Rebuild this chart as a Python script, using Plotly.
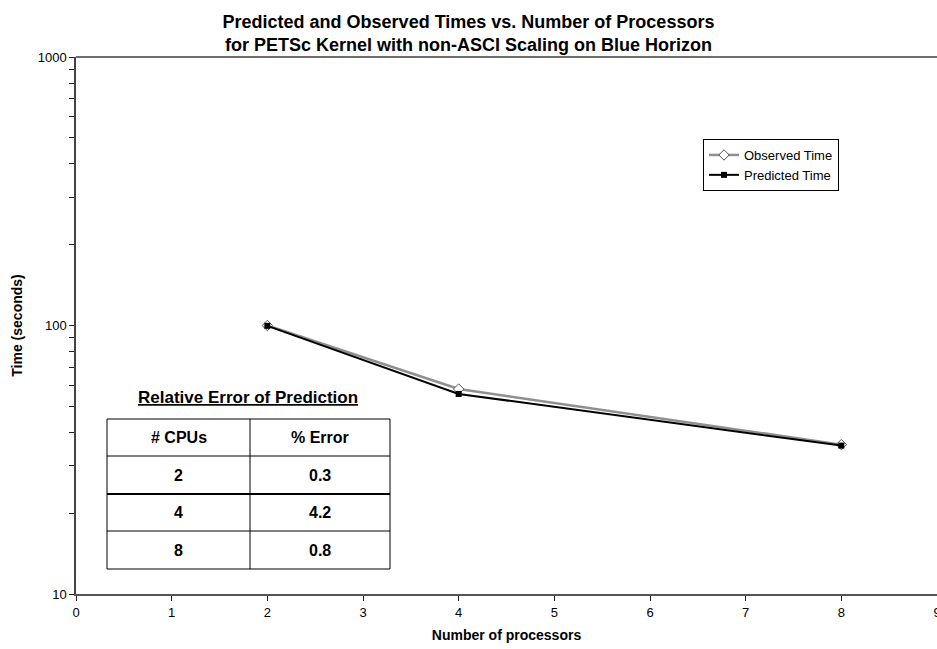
import plotly.graph_objects as go

# Processor counts and measured / modelled run times (seconds)
processors = [2, 4, 8]
observed_time = [100.0, 58.0, 36.0]
predicted_time = [99.7, 55.6, 35.7]

# Relative error table
table_title = "Relative Error of Prediction"
table_header = ["# CPUs", "% Error"]
table_cpus = [2, 4, 8]
table_error = [0.3, 4.2, 0.8]

x_ticks = list(range(0, 10))
y_decades = [10, 100, 1000]
# one tick per integer multiple inside each decade, labels on decades only
y_tickvals = [d * m for d in (10, 100) for m in range(1, 10)] + [1000]
y_ticktext = [str(v) if v in y_decades else "" for v in y_tickvals]

W, H = 937, 649
L, R, T, B = 76, 0, 57, 55
PW, PH = W - L - R, H - T - B


def px(x):
    return (x - L) / PW


def py(y):
    return (H - B - y) / PH


fig = go.Figure()
fig.add_trace(go.Scatter(
    x=processors, y=observed_time, name="Observed Time", mode="lines+markers",
    line=dict(color="#8f8f8f", width=2.5),
    marker=dict(symbol="diamond", size=8, color="white",
                line=dict(color="#555555", width=1)),
))
fig.add_trace(go.Scatter(
    x=processors, y=predicted_time, name="Predicted Time", mode="lines+markers",
    line=dict(color="black", width=2),
    marker=dict(symbol="square", size=6, color="black"),
))

font = "Liberation Sans, Arial, sans-serif"

shapes = []
# top frame line
shapes.append(dict(type="line", xref="paper", yref="paper", x0=0, x1=1, y0=1, y1=1,
                   line=dict(color="#6e6e6e", width=2)))

# Table geometry (pixels)
tx0, tx1, tcol = 107, 390, 250
row_y = [419, 456, 494, 531, 569]
shapes.append(dict(type="rect", xref="paper", yref="paper",
                   x0=px(tx0), x1=px(tx1), y0=py(row_y[-1]), y1=py(row_y[0]),
                   line=dict(color="black", width=1), fillcolor="white", layer="above"))
for i, yy in enumerate(row_y[1:-1]):
    shapes.append(dict(type="line", xref="paper", yref="paper",
                       x0=px(tx0), x1=px(tx1), y0=py(yy), y1=py(yy),
                       line=dict(color="black", width=2 if i == 1 else 1), layer="above"))
shapes.append(dict(type="line", xref="paper", yref="paper",
                   x0=px(tcol), x1=px(tcol), y0=py(row_y[-1]), y1=py(row_y[0]),
                   line=dict(color="black", width=1), layer="above"))

annotations = []
annotations.append(dict(text="<b><u>" + table_title + "</u></b>", xref="paper", yref="paper",
                        x=px(248), y=py(397), xanchor="center", yanchor="middle",
                        showarrow=False, font=dict(family=font, size=17, color="black")))
rows = [table_header] + [[str(c), f"{e:.1f}"] for c, e in zip(table_cpus, table_error)]
col_cx = [(tx0 + tcol) / 2, (tcol + tx1) / 2]
for r, row in enumerate(rows):
    cy = (row_y[r] + row_y[r + 1]) / 2
    for c, txt in enumerate(row):
        annotations.append(dict(text="<b>" + txt + "</b>", xref="paper", yref="paper",
                                x=px(col_cx[c]), y=py(cy), xanchor="center", yanchor="middle",
                                showarrow=False, font=dict(family=font, size=16, color="black")))

fig.update_layout(
    width=W, height=H,
    margin=dict(l=L, r=R, t=T, b=B, autoexpand=False),
    paper_bgcolor="white", plot_bgcolor="white",
    font=dict(family=font, size=13, color="black"),
    title=dict(
        text="<b>Predicted and Observed Times vs. Number of Processors<br>"
             "for PETSc Kernel with non-ASCI Scaling on Blue Horizon</b>",
        x=0.5, xref="container", xanchor="center", y=1 - 28 / H, yanchor="middle",
        font=dict(family=font, size=18, color="black"),
    ),
    xaxis=dict(
        range=[0, 9], tickvals=x_ticks, ticks="outside", ticklen=5, tickwidth=1,
        tickcolor="#222", showgrid=False, zeroline=False,
        showline=True, linecolor="#555", linewidth=2, mirror=False,
        tickfont=dict(size=13), ticklabeloverflow="allow", automargin=False,
        title=dict(text="<b>Number of processors</b>", font=dict(size=14), standoff=12),
    ),
    yaxis=dict(
        type="log", range=[1, 3], tickmode="array",
        tickvals=y_tickvals, ticktext=y_ticktext,
        ticks="outside", ticklen=5, tickwidth=1, tickcolor="#222",
        showgrid=False, zeroline=False,
        showline=True, linecolor="#444", linewidth=1.5, mirror=False,
        tickfont=dict(size=13), automargin=False,
        title=dict(text="<b>Time (seconds)</b>", font=dict(size=14), standoff=12),
    ),
    legend=dict(
        x=px(703), y=py(139), xanchor="left", yanchor="top",
        bordercolor="black", borderwidth=1, bgcolor="white",
        font=dict(size=13), tracegroupgap=0, itemwidth=30,
    ),
    shapes=shapes,
    annotations=annotations,
)

fig.write_html("out.html")
